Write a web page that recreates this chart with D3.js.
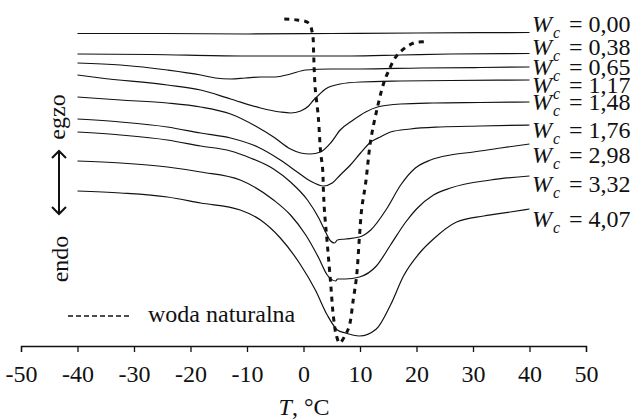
<!DOCTYPE html>
<html>
<head>
<meta charset="utf-8">
<script src="https://cdnjs.cloudflare.com/ajax/libs/d3/7.8.5/d3.min.js"></script>
<style>
  body { margin: 0; background: #fff; }
  svg { display: block; }
  text { font-family: "Liberation Serif", "Times New Roman", serif; fill: #111; }
</style>
</head>
<body>
<svg id="chart" width="636" height="419"></svg>
<script>
// water content labels, top curve first
const wcLabels = ["0,00", "0,38", "0,65", "1,17", "1,48", "1,76", "2,98", "3,32", "4,07"];
const xTicks = [-50, -40, -30, -20, -10, 0, 10, 20, 30, 40, 50];

// DSC curves: [temperature in °C, heat flow (arbitrary, shifted)]
const wc000 = [[-40, 31.25], [-25, 31.25], [-10, 31.2], [5, 31.25], [20, 31.3], [40, 31.35]];
const wc038 = [[-40, 29.2], [-27.1, 29.15], [-11.2, 29.0], [-0.5, 29.0], [8.3, 29.0], [17.2, 29.1], [26, 29.2], [40, 29.25]];
const wc065 = [[-40, 28.3], [-32.4, 28.1], [-24.1, 27.6], [-18.2, 27.1], [-15.6, 26.8], [-12.9, 26.7], [-10.3, 26.8],
  [-7.6, 26.9], [-5, 26.9], [-2.3, 27.2], [0.4, 27.6], [4.8, 27.7], [10.1, 27.7], [20.7, 27.8], [31.3, 27.85], [40, 27.9]];
const wc117 = [[-40, 27.1], [-35.9, 26.8], [-24.1, 26.1], [-18.2, 25.6], [-12.9, 24.7], [-7.6, 23.8], [-4.1, 23.4],
  [-2.3, 23.3], [-0.5, 23.5], [0.9, 24.0], [1.8, 24.6], [2.7, 25.1], [3.9, 25.7], [6.5, 26.2], [10.1, 26.4],
  [17.2, 26.5], [26, 26.55], [40, 26.6]];
const wc148 = [[-40, 24.9], [-32.4, 24.6], [-24.1, 24.3], [-18.2, 23.9], [-12.9, 23.2], [-8.5, 22.0], [-5.3, 20.9],
  [-2.3, 19.7], [-0.5, 19.3], [1.2, 19.2], [3.0, 19.4], [4.8, 20.3], [6.5, 21.6], [8.8, 22.6], [11.0, 23.4],
  [13.1, 23.9], [17.2, 24.2], [23.0, 24.3], [31.3, 24.35], [40, 24.4]];
const wc176 = [[-40, 22.7], [-32.4, 22.4], [-24.1, 21.9], [-18.2, 21.3], [-12.9, 20.8], [-8.1, 19.9], [-4.1, 18.6],
  [-1.1, 17.4], [1.2, 16.5], [3.5, 16.0], [5.1, 16.3], [6.5, 17.1], [8.3, 18.1], [10.1, 19.3], [11.9, 20.4],
  [13.6, 20.9], [15.4, 21.4], [18.9, 21.7], [24.2, 21.9], [31.3, 22.0], [40, 22.1]];
const wc298 = [[-40, 21.4], [-32.4, 21.1], [-24.1, 20.6], [-18.2, 20.0], [-12.9, 19.5], [-9.4, 18.8], [-5.3, 17.7],
  [-2.3, 16.4], [0.7, 14.6], [2.7, 12.8], [3.9, 11.4], [4.8, 10.5], [5.5, 10.3], [6.0, 10.6], [7.4, 10.7],
  [9.9, 10.9], [11.9, 11.6], [14.7, 13.7], [17.2, 16.1], [19.8, 17.8], [22.5, 18.6], [26, 19.1], [30.1, 19.4],
  [34.9, 19.8], [40, 20.2]];
const wc332 = [[-40, 18.5], [-32.4, 18.3], [-24.1, 17.9], [-18.2, 17.4], [-11.2, 16.6], [-5.3, 14.6], [-2.3, 13.1],
  [0.4, 11.1], [2.7, 8.8], [4.2, 7.1], [5.7, 6.5], [6.0, 6.7], [7.4, 6.7], [9.9, 6.9], [12.9, 8.0], [15.4, 10.1],
  [18.1, 12.4], [20, 13.7], [23, 15.1], [26, 15.8], [33.1, 16.6], [40, 17.0]];
const wc407 = [[-40, 15.5], [-32.4, 15.3], [-24.1, 14.9], [-18.2, 14.3], [-11.2, 13.6], [-7.6, 12.6], [-4.1, 10.8],
  [-0.5, 8.1], [2.1, 5.6], [4.2, 3.1], [6.0, 1.6], [7.4, 1.3], [9.9, 1.0], [12.9, 1.7], [15.4, 4.1], [17.7, 7.0],
  [20.7, 9.4], [23, 10.7], [27.1, 12.4], [31.9, 13.0], [36.6, 13.4], [40, 13.7]];

// natural water (dotted)
const water = [[-3.4, 32.7], [-1.1, 32.6], [0.9, 32.3], [1.6, 31.2], [1.8, 29.1], [1.9, 27.6], [2.1, 25.6],
  [2.5, 23.6], [2.7, 22.3], [3.0, 19.6], [3.4, 17.6], [3.5, 15.9], [3.7, 13.6], [4.2, 10.3], [4.8, 6.3],
  [5.3, 2.9], [5.8, 1.1], [6.4, 0.3], [7.4, 1.1], [8.1, 2.0], [8.8, 4.6], [9.4, 7.0], [9.9, 10.9], [10.3, 13.7],
  [11.0, 16.3], [11.9, 20.6], [13.1, 23.9], [14.2, 26.3], [14.9, 27.3], [16.6, 29.1], [19.5, 30.3], [21.9, 30.4]];

const curves = [wc000, wc038, wc065, wc117, wc148, wc176, wc298, wc332, wc407];
const FONT = "Liberation Serif";

const svg = d3.select("#chart");
const x = d3.scaleLinear().domain([-50, 50]).range([21, 586]);
const y = d3.scaleLinear().domain([0, 33]).range([346, 16]);

const line = d3.line()
  .x(d => x(d[0]))
  .y(d => y(d[1]))
  .curve(d3.curveMonotoneX);

svg.append("g").selectAll("path")
  .data(curves)
  .join("path")
  .attr("d", line)
  .attr("fill", "none")
  .attr("stroke", "#111")
  .attr("stroke-width", 1.2);

svg.append("path")
  .attr("d", line.curve(d3.curveCatmullRom)(water))
  .attr("fill", "none")
  .attr("stroke", "#111")
  .attr("stroke-width", 3)
  .attr("stroke-dasharray", "5,5");

// x axis
const axis = svg.append("g")
  .attr("transform", "translate(0,346)")
  .call(d3.axisBottom(x).tickValues(xTicks).tickFormat(d => String(d)).tickSize(6).tickPadding(13));
axis.attr("font-family", FONT);
axis.selectAll("path, line").attr("stroke", "#111").attr("stroke-width", 1.3);
axis.selectAll("text").attr("font-size", 24).attr("font-family", FONT).attr("fill", "#111");

const title = svg.append("text").attr("x", 304).attr("y", 415).attr("text-anchor", "middle")
  .attr("font-family", FONT).attr("font-size", 24);
title.append("tspan").attr("font-style", "italic").text("T");
title.append("tspan").text(", °C");

// curve labels
const labelBase = [32, 55, 75, 93, 110, 138, 163, 192, 227];
wcLabels.forEach((lab, i) => {
  const g = svg.append("g").attr("transform", `translate(532,${labelBase[i]})`).attr("font-family", FONT);
  g.append("text").attr("font-size", 24).attr("font-style", "italic").text("W");
  g.append("text").attr("x", 21).attr("y", 6).attr("font-size", 16).attr("font-style", "italic").text("c");
  g.append("text").attr("x", 37).attr("font-size", 24).text("= " + lab);
});

// egzo / endo with arrow
svg.append("text").attr("transform", "translate(65,117) rotate(-90)")
  .attr("text-anchor", "middle").attr("font-family", FONT).attr("font-size", 24).text("egzo");
svg.append("text").attr("transform", "translate(68,259) rotate(-90)")
  .attr("text-anchor", "middle").attr("font-family", FONT).attr("font-size", 24).text("endo");
const arrow = svg.append("g").attr("stroke", "#111").attr("stroke-width", 2).attr("fill", "none");
arrow.append("line").attr("x1", 59).attr("x2", 59).attr("y1", 151).attr("y2", 214);
arrow.append("path").attr("d", "M52,158L59,151L66,158");
arrow.append("path").attr("d", "M52,207L59,214L66,207");

// legend
svg.append("line").attr("x1", 68).attr("x2", 132).attr("y1", 316).attr("y2", 316)
  .attr("stroke", "#111").attr("stroke-width", 1.4).attr("stroke-dasharray", "5,3");
svg.append("text").attr("x", 148).attr("y", 322).attr("font-family", FONT).attr("font-size", 24).text("woda naturalna");
</script>
</body>
</html>
